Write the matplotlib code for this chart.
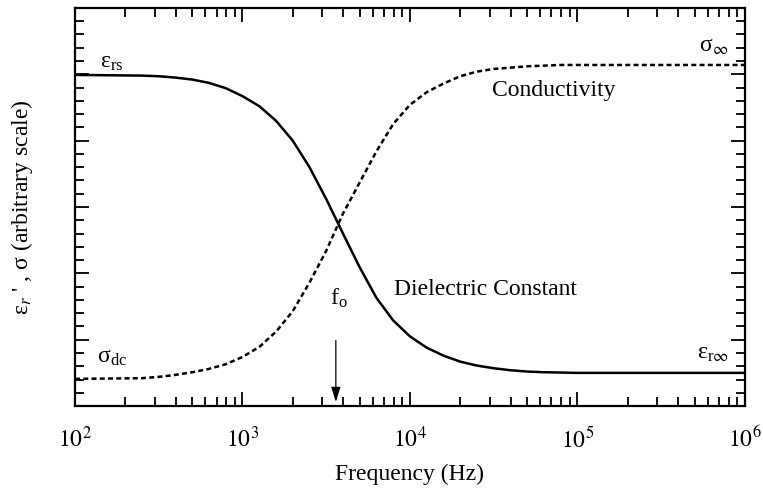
import matplotlib
matplotlib.use("Agg")
import matplotlib.pyplot as plt
from matplotlib.ticker import LogLocator, MultipleLocator, NullFormatter, FixedLocator

plt.rcParams['font.family'] = ['Liberation Serif', 'DejaVu Serif']
plt.rcParams['mathtext.fontset'] = 'stix'

# Dielectric constant (solid): log10(frequency in Hz) and value
diel_logf = [2.0, 2.4, 2.5, 2.6, 2.7, 2.8, 2.9, 3.0, 3.1, 3.2, 3.3, 3.4, 3.5, 3.6, 3.7, 3.8,
             3.9, 4.0, 4.1, 4.2, 4.3, 4.4, 4.5, 4.6, 4.7, 4.8, 5.0, 6.0]
diel_val = [4.99, 4.98, 4.97, 4.95, 4.92, 4.87, 4.79, 4.67, 4.52, 4.30, 4.00, 3.60, 3.12, 2.60,
            2.09, 1.63, 1.29, 1.05, 0.88, 0.76, 0.67, 0.61, 0.57, 0.54, 0.52, 0.51, 0.50, 0.50]

# Conductivity (dashed)
cond_logf = [2.0, 2.4, 2.5, 2.6, 2.7, 2.8, 2.9, 3.0, 3.1, 3.2, 3.3, 3.4, 3.5, 3.6, 3.7, 3.8,
             3.9, 4.0, 4.1, 4.2, 4.3, 4.4, 4.5, 4.6, 4.7, 4.9, 6.0]
cond_val = [0.41, 0.42, 0.44, 0.47, 0.51, 0.56, 0.63, 0.74, 0.89, 1.12, 1.43, 1.86, 2.34, 2.90,
            3.37, 3.84, 4.25, 4.54, 4.73, 4.86, 4.97, 5.04, 5.08, 5.10, 5.12, 5.14, 5.14]

x_ticks = [1e2, 1e3, 1e4, 1e5, 1e6]
x_ticklabels = [r"$10^{2}$", r"$10^{3}$", r"$10^{4}$", r"$10^{5}$", r"$10^{6}$"]
f0 = 3610

diel_freq = [10 ** e for e in diel_logf]
cond_freq = [10 ** e for e in cond_logf]

fig = plt.figure(figsize=(7.63, 4.94), dpi=100)
ax = fig.add_axes([0.0983, 0.178, 0.878, 0.806])

ax.plot(diel_freq, diel_val, color='black', lw=1.8, solid_joinstyle='round')
ax.plot(cond_freq, cond_val, color='black', lw=1.8, linestyle=(0, (2.0, 1.3)))

ax.set_xscale('log')
ax.set_xlim(1e2, 1e6)
ax.set_ylim(0, 6)
ax.xaxis.set_major_locator(FixedLocator(x_ticks))
ax.set_xticklabels(x_ticklabels)
ax.xaxis.set_minor_locator(LogLocator(base=10, subs=range(2, 10), numticks=20))
ax.xaxis.set_minor_formatter(NullFormatter())
ax.yaxis.set_major_locator(MultipleLocator(1))
ax.yaxis.set_minor_locator(MultipleLocator(0.2))
ax.set_yticklabels([])

ax.tick_params(which='both', direction='in', top=True, right=True, width=1.3)
ax.tick_params(which='major', length=10, labelsize=17, pad=15)
ax.tick_params(which='minor', length=6.5)
for s in ax.spines.values():
    s.set_linewidth(1.6)

ax.set_xlabel("Frequency (Hz)", fontsize=17, labelpad=8)
ax.set_ylabel(r"ε$_{r}$ ' , σ (arbitrary scale)", fontsize=17, labelpad=14)

fs = 17
ax.text(141, 5.10, r"ε$_\mathregular{rs}$", fontsize=fs, va='baseline', ha='left')
ax.text(530000, 5.34, r"σ$_{\infty}$", fontsize=fs, va='baseline', ha='left')
ax.text(72400, 4.76, "Conductivity", fontsize=fs, va='center', ha='center')
ax.text(28100, 1.75, "Dielectric Constant", fontsize=fs, va='center', ha='center')
ax.text(3330, 1.52, r"f$_\mathregular{o}$", fontsize=fs, va='baseline', ha='left')
ax.text(135, 0.65, r"σ$_\mathregular{dc}$", fontsize=fs, va='baseline', ha='left')
ax.text(515000, 0.72, r"ε$_{\mathregular{r}\infty}$", fontsize=fs, va='baseline', ha='left')

ax.annotate("", xy=(f0, 0.02), xytext=(f0, 1.03),
            arrowprops=dict(arrowstyle="-|>,head_length=0.9,head_width=0.28", color='black', lw=0.9))

fig.savefig("out.png", dpi=100, facecolor='white')
